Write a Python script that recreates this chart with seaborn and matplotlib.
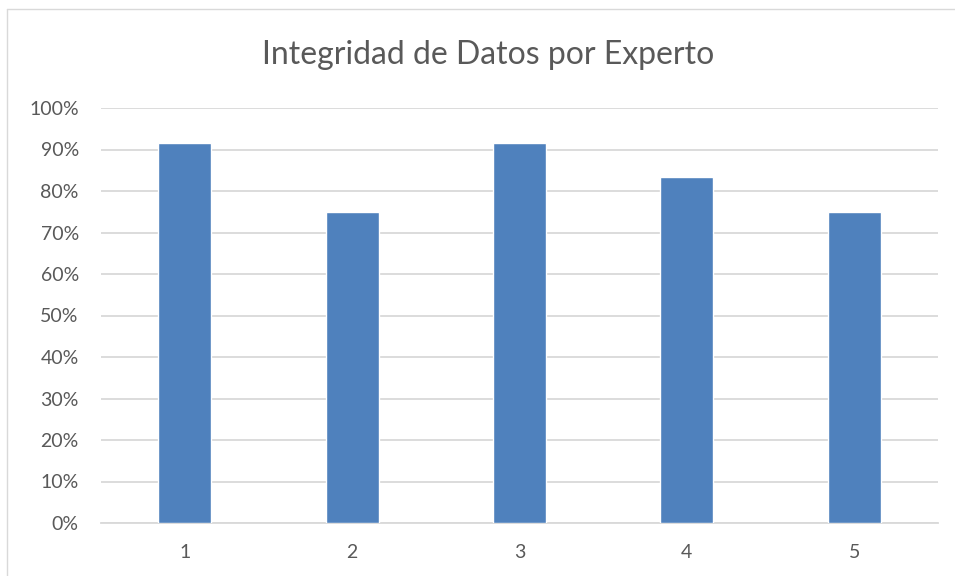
import numpy as np
import pandas as pd
import matplotlib
matplotlib.use("Agg")
import matplotlib.pyplot as plt
from matplotlib.lines import Line2D
from matplotlib.ticker import PercentFormatter
import seaborn as sns

# === Dati ===================================================================
expertos = ["1", "2", "3", "4", "5"]
integridad = [0.9167, 0.75, 0.9167, 0.8333, 0.75]
titulo = "Integridad de Datos por Experto"

df = pd.DataFrame({"experto": expertos, "integridad": integridad})

# === Stile ==================================================================
sns.set_style("white")
plt.rcParams["font.family"] = ["Lato", "DejaVu Sans"]
text_col = "#595959"
grid_col = "#D9D9D9"

fig = plt.figure(figsize=(9.55, 5.76), dpi=100)
ax = fig.add_axes([101 / 955, 1 - 523 / 576, 837 / 955, 415 / 576])

sns.barplot(data=df, x="experto", y="integridad", color="#4F81BD",
            saturation=1, width=0.316, ax=ax, zorder=3)

ax.set_ylim(0, 1)
ax.set_xlim(-0.5, len(expertos) - 0.5)
ax.set_yticks(np.arange(0, 1.01, 0.1))
ax.yaxis.set_major_formatter(PercentFormatter(1.0, decimals=0))
ax.grid(axis="y", color=grid_col, linewidth=1.3, zorder=0)
ax.set_axisbelow(True)
for s in ["top", "right", "left"]:
    ax.spines[s].set_visible(False)
ax.spines["bottom"].set_color(grid_col)
ax.spines["bottom"].set_linewidth(1.3)
ax.tick_params(axis="both", length=0, labelsize=14, colors=text_col)
ax.tick_params(axis="x", pad=15)
ax.tick_params(axis="y", pad=16)
ax.set_xlabel("")
ax.set_ylabel("")

fig.text(488 / 955, 1 - 55 / 576, titulo, ha="center", va="center",
         fontsize=23, color=text_col)

# bordo del grafico
bx, by = 7 / 955, 1 - 9 / 576
fig.add_artist(Line2D([bx, bx], [0, by], transform=fig.transFigure,
                      color=grid_col, linewidth=1))
fig.add_artist(Line2D([bx, 1], [by, by], transform=fig.transFigure,
                      color=grid_col, linewidth=1))

plt.savefig("out.png", dpi=100)
